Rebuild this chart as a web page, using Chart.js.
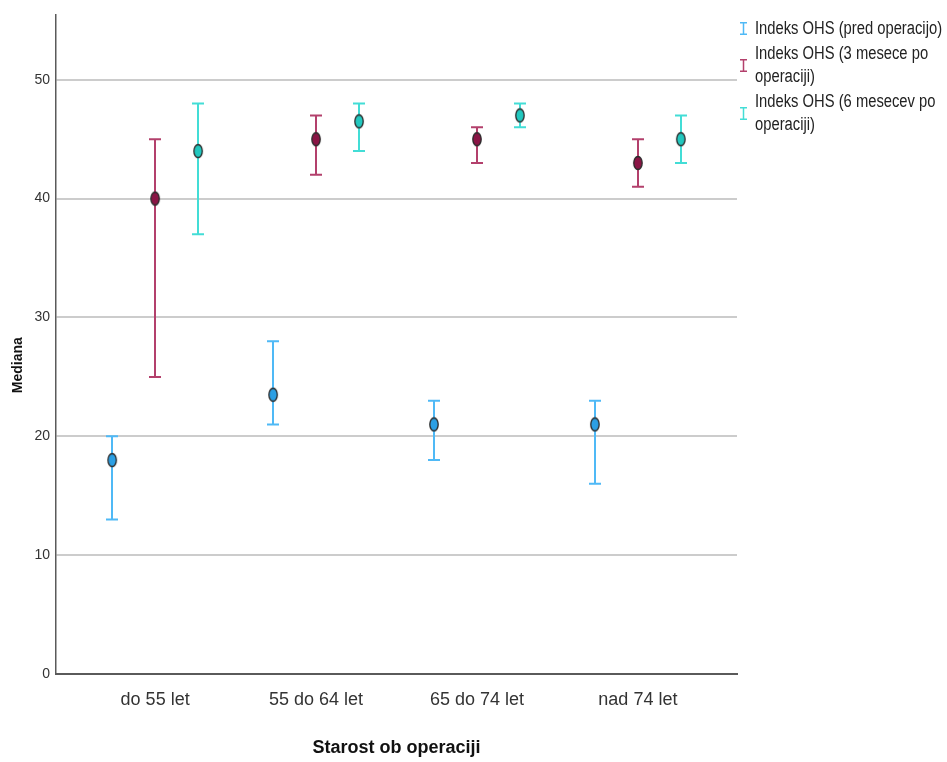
<!DOCTYPE html>
<html><head><meta charset="utf-8">
<script src="https://cdn.jsdelivr.net/npm/chart.js@4"></script>
<style>
html,body{margin:0;padding:0;background:#fff;}
#wrap{position:relative;width:947px;height:762px;overflow:hidden;}
#legend{position:absolute;left:740px;top:17px;font-family:'Liberation Sans',Arial,sans-serif;font-size:18px;line-height:23px;color:#222;}
.item{display:flex;align-items:center;margin-bottom:2px;white-space:nowrap;}
.icon{width:7px;margin-right:8px;flex:none;display:block;}
.txt{display:inline-block;transform:scaleX(0.82);transform-origin:0 50%;}
</style></head><body>
<div id="wrap"><canvas id="c" width="947" height="762"></canvas><div id="legend"></div></div>
<script>
// ---- data ----
const categories = ['do 55 let', '55 do 64 let', '65 do 74 let', 'nad 74 let'];
const seriesNames = [
  ['Indeks OHS (pred operacijo)'],
  ['Indeks OHS (3 mesece po', 'operaciji)'],
  ['Indeks OHS (6 mesecev po', 'operaciji)']
];
const predMedian = [18, 23.5, 21, 21];
const predLow    = [13, 21, 18, 16];
const predHigh   = [20, 28, 23, 23];
const m3Median = [40, 45, 45, 43];
const m3Low    = [25, 42, 43, 41];
const m3High   = [45, 47, 46, 45];
const m6Median = [44, 46.5, 47, 45];
const m6Low    = [37, 44, 46, 43];
const m6High   = [48, 48, 48, 47];
const yTicks = [0, 10, 20, 30, 40, 50];
const xAxisTitle = 'Starost ob operaciji';
const yAxisTitle = 'Mediana';

// ---- styles ----
const fillColors = ['#2b9fe4', '#8a1545', '#22c8bf'];
const barColors  = ['#4fb9f6', '#b3406c', '#43ddd6'];
const offsets = [-0.267, 0, 0.267];
const sans = "'Liberation Sans', Arial, sans-serif";

function ellipseImg(fill) {
  const c = document.createElement('canvas');
  c.width = 12; c.height = 16;
  const g = c.getContext('2d');
  g.beginPath();
  g.ellipse(6, 8, 4.2, 6.5, 0, 0, Math.PI * 2);
  g.fillStyle = fill; g.fill();
  g.lineWidth = 1.3; g.strokeStyle = '#2a2a2a'; g.stroke();
  return c;
}

const medians = [predMedian, m3Median, m6Median];
const lows = [predLow, m3Low, m6Low];
const highs = [predHigh, m3High, m6High];

const datasets = medians.map((arr, s) => ({
  label: seriesNames[s].join(' '),
  data: arr.map((v, i) => ({ x: i + offsets[s], y: v })),
  low: lows[s], high: highs[s],
  barColor: barColors[s],
  pointStyle: ellipseImg(fillColors[s]),
  pointRadius: 6,
  showLine: false
}));

const errorBarPlugin = {
  id: 'errbars',
  beforeDatasetsDraw(chart) {
    const { ctx, scales: { x, y } } = chart;
    chart.data.datasets.forEach(ds => {
      ctx.save();
      ctx.strokeStyle = ds.barColor;
      ctx.lineWidth = 2;
      ds.data.forEach((p, i) => {
        const px = Math.round(x.getPixelForValue(p.x));
        const yl = y.getPixelForValue(ds.low[i]);
        const yh = y.getPixelForValue(ds.high[i]);
        ctx.beginPath();
        ctx.moveTo(px, yl); ctx.lineTo(px, yh);
        ctx.moveTo(px - 6, yl); ctx.lineTo(px + 6, yl);
        ctx.moveTo(px - 6, yh); ctx.lineTo(px + 6, yh);
        ctx.stroke();
      });
      ctx.restore();
    });
  }
};

const yTitlePlugin = {
  id: 'ytitle',
  afterDraw(chart) {
    const { ctx, scales: { y } } = chart;
    ctx.save();
    ctx.translate(18, (y.top + y.bottom) / 2 + 21);
    ctx.rotate(-Math.PI / 2);
    ctx.font = "bold 14px 'Liberation Sans', Arial, sans-serif";
    ctx.fillStyle = '#111';
    ctx.textAlign = 'center';
    ctx.textBaseline = 'middle';
    ctx.fillText(yAxisTitle, 0, 0);
    ctx.restore();
  }
};

new Chart(document.getElementById('c'), {
  type: 'scatter',
  data: { datasets },
  plugins: [errorBarPlugin, yTitlePlugin],
  options: {
    responsive: false,
    animation: false,
    layout: { padding: { left: 0, right: 210, top: 13, bottom: 0 } },
    plugins: { legend: { display: false }, tooltip: { enabled: false } },
    scales: {
      x: {
        type: 'linear',
        min: -0.616, max: 3.616,
        afterFit: s => { s.height = 88; },
        afterBuildTicks: s => { s.ticks = categories.map((c, i) => ({ value: i })); },
        grid: { display: false, drawTicks: false },
        border: { color: '#5a5a5a', width: 2 },
        ticks: {
          padding: 15,
          color: '#333',
          font: { family: sans, size: 18 },
          callback: v => categories[v] ?? ''
        },
        title: {
          display: true, text: xAxisTitle, color: '#111',
          font: { family: sans, size: 18, weight: 'bold' },
          padding: { top: 0, bottom: 3 }
        }
      },
      y: {
        min: 0, max: 55.5,
        afterFit: s => { s.width = 56; },
        afterBuildTicks: s => { s.ticks = yTicks.map(v => ({ value: v })); },
        grid: {
          drawTicks: false, lineWidth: 2,
          color: c => (c.tick && c.tick.value === 0) ? 'rgba(0,0,0,0)' : '#cccccc'
        },
        border: { color: '#5a5a5a', width: 1.5 },
        ticks: {
          padding: 6, color: '#333',
          font: { family: sans, size: 14 }
        }
      }
    }
  }
});

// ---- legend ----
const lg = document.getElementById('legend');
seriesNames.forEach((lines, s) => {
  const it = document.createElement('div');
  it.className = 'item';
  it.innerHTML = '<svg class="icon" width="7" height="13" viewBox="0 0 7 13"><path d="M0 0.75 H7 M3.5 0.75 V12.25 M0 12.25 H7" stroke="' + barColors[s] + '" stroke-width="1.5" fill="none"/></svg><span class="txt"></span>';
  it.querySelector('span').innerHTML = lines.join('<br>');
  lg.appendChild(it);
});
</script>
</body></html>
